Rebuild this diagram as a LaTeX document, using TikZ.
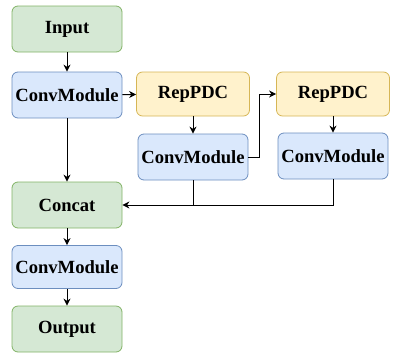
\documentclass[tikz,border=0pt]{standalone}
\usepackage{fontspec}
\setmainfont{Liberation Serif}
\usetikzlibrary{arrows.meta}
\definecolor{gfill}{HTML}{D5E8D4}
\definecolor{gdraw}{HTML}{82B366}
\definecolor{bfill}{HTML}{DAE8FC}
\definecolor{bdraw}{HTML}{6C8EBF}
\definecolor{yfill}{HTML}{FFF2CC}
\definecolor{ydraw}{HTML}{D6B656}
\begin{document}
\begin{tikzpicture}[x=1pt,y=-1pt]
\tikzstyle{block}=[rectangle, rounded corners=6pt, draw, line width=0.8pt, minimum width=110pt, minimum height=46pt, inner sep=0pt, font=\fontsize{18.6}{20}\selectfont\bfseries]
\tikzstyle{io}=[block, fill=gfill, draw=gdraw]
\tikzstyle{conv}=[block, fill=bfill, draw=bdraw]
\tikzstyle{rep}=[block, fill=yfill, draw=ydraw, minimum width=113pt, minimum height=44pt]
\tikzstyle{arr}=[line width=1pt, -{Stealth[length=7pt,width=7pt]}]
\useasboundingbox (0,0) rectangle (395,356);

\node[io] (in) at (67,29) {Input};
\node[conv] (cm1) at (67,95) {ConvModule};
\node[rep] (rp1) at (193,94) {RepPDC};
\node[conv] (cm2) at (193,157) {ConvModule};
\node[rep] (rp2) at (333,94) {RepPDC};
\node[conv] (cm3) at (333,156) {ConvModule};
\node[io] (cat) at (67,205) {Concat};
\node[conv, minimum height=43pt] (cm4) at (67,267) {ConvModule};
\node[io] (out) at (67,329) {Output};

\draw[arr] (in) -- (cm1);
\draw[arr] (cm1) -- (rp1);
\draw[arr] (cm1) -- (cat);
\draw[arr] (rp1) -- (cm2);
\draw[arr] (cm2.east) -- ++(11,0) |- (rp2.west);
\draw[arr] (rp2) -- (cm3);
\draw[arr] (cm3.south) |- (cat.east);
\draw[line width=1pt] (cm2.south) -- (cm2.south |- cat.east);
\draw[arr] (cat) -- (cm4);
\draw[arr] (cm4) -- (out);
\end{tikzpicture}
\end{document}
